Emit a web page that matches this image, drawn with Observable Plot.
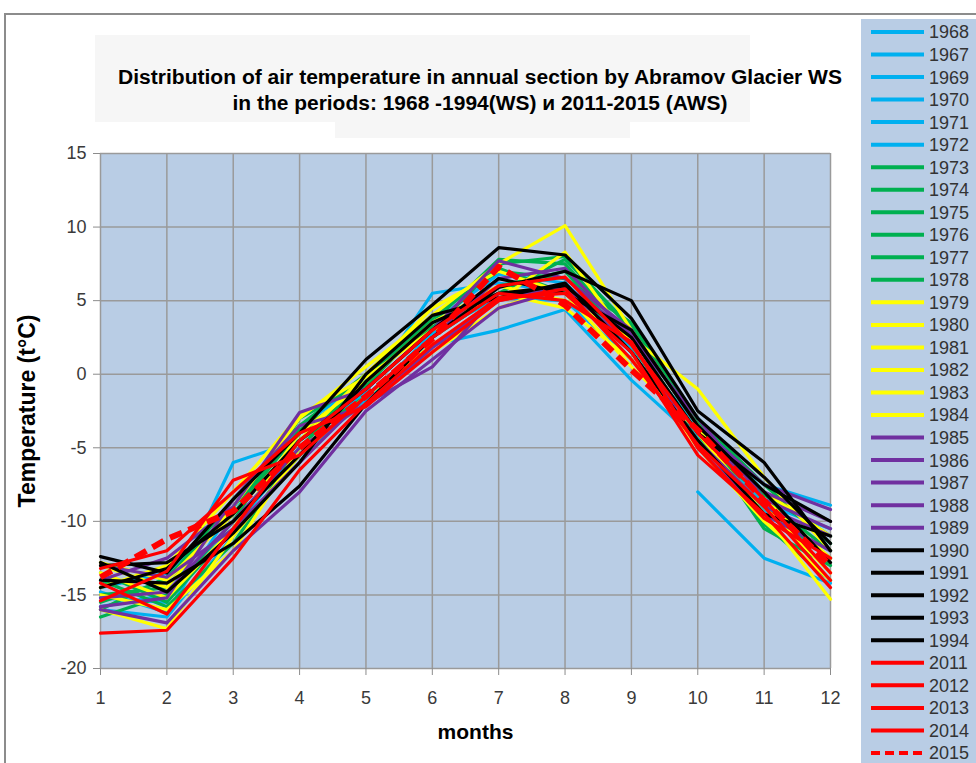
<!DOCTYPE html>
<html><head><meta charset="utf-8">
<script src="https://cdn.jsdelivr.net/npm/d3@7"></script>
<script src="https://cdn.jsdelivr.net/npm/@observablehq/plot@0.6"></script>
<style>
body{margin:0;background:#fff;}
#wrap{position:relative;width:976px;height:763px;overflow:hidden;font-family:"Liberation Sans",Arial,sans-serif;}
#frame{position:absolute;left:4px;top:13px;width:1200px;height:1200px;border-left:2px solid #8c8c8c;border-top:2px solid #8c8c8c;}
.tb{position:absolute;background:#f6f6f6;}
#chart,#title,#legend{position:absolute;}
#chart{left:0;top:0;}
#title{left:0;top:0;}
#legend{left:861px;top:19px;}
</style></head>
<body><div id="wrap">
<div id="frame"></div>
<div class="tb" style="left:95px;top:35px;width:655px;height:87px"></div>
<div class="tb" style="left:335px;top:122px;width:295px;height:16px"></div>
<div id="chart"></div><div id="title"></div><div id="legend"></div>
</div>
<script>
const months = [1,2,3,4,5,6,7,8,9,10,11,12];
const yTicks = [-20,-15,-10,-5,0,5,10,15];
const years = ["1968","1967","1969","1970","1971","1972","1973","1974","1975","1976","1977","1978",
  "1979","1980","1981","1982","1983","1984","1985","1986","1987","1988","1989",
  "1990","1991","1992","1993","1994","2011","2012","2013","2014","2015"];
const colors = ["#00b0f0","#00b0f0","#00b0f0","#00b0f0","#00b0f0","#00b0f0",
  "#00b050","#00b050","#00b050","#00b050","#00b050","#00b050",
  "#ffff00","#ffff00","#ffff00","#ffff00","#ffff00","#ffff00",
  "#7030a0","#7030a0","#7030a0","#7030a0","#7030a0",
  "#000000","#000000","#000000","#000000","#000000",
  "#ff0000","#ff0000","#ff0000","#ff0000","#ff0000"];

const t1968 = [-15.2,-15.5,-6.0,-4.5,-1.2,5.5,6.2,5.6,1.8,-3.5,-7.5,-8.9];
const t1967 = [null,null,null,null,null,null,null,null,null,-8.0,-12.5,-14.2];
const t1969 = [-14.8,-16.2,-9.0,-4.0,-1.5,2.0,3.0,4.4,-0.4,-4.5,-9.5,-12.0];
const t1970 = [-15.8,-15.0,-10.5,-5.0,-2.0,2.5,5.5,5.8,2.5,-3.0,-8.0,-11.0];
const t1971 = [-14.5,-13.5,-9.5,-3.5,-0.5,3.5,6.8,6.2,2.0,-4.2,-8.8,-10.5];
const t1972 = [-16.0,-16.5,-11.0,-5.5,-1.8,2.8,5.2,5.0,1.0,-3.8,-9.2,-12.5];
const t1973 = [-16.5,-15.0,-10.0,-3.0,-0.5,3.5,7.8,7.5,2.5,-4.0,-10.5,-13.0];
const t1974 = [-15.0,-14.5,-9.0,-4.0,-1.0,3.0,7.5,8.0,3.0,-3.5,-8.5,-12.0];
const t1975 = [-14.0,-15.8,-11.5,-5.0,-0.5,4.0,7.0,6.5,3.5,-3.0,-7.5,-11.5];
const t1976 = [-15.5,-14.0,-8.5,-3.5,0.0,3.2,6.0,7.0,2.0,-4.5,-9.0,-12.5];
const t1977 = [-13.5,-15.5,-10.5,-4.5,-1.5,2.5,5.5,7.8,3.2,-3.2,-10.2,-14.0];
const t1978 = [-16.0,-13.8,-9.5,-3.8,-0.8,3.8,7.2,5.5,2.8,-4.8,-8.2,-11.0];
const t1979 = [-13.0,-14.5,-9.0,-3.0,0.5,4.0,7.5,10.1,3.0,-3.5,-8.0,-11.0];
const t1980 = [-16.0,-17.3,-11.0,-5.5,-1.5,2.0,5.0,8.3,2.0,-4.0,-9.5,-15.3];
const t1981 = [-13.5,-15.2,-10.5,-4.0,-0.5,3.5,6.0,5.0,2.5,-1.0,-7.0,-12.0];
const t1982 = [-14.5,-13.0,-8.0,-2.8,-0.2,3.0,5.5,4.5,1.0,-4.5,-9.0,-13.5];
const t1983 = [-15.0,-16.0,-12.0,-5.0,-2.0,1.5,4.5,6.0,1.5,-5.0,-10.0,-14.0];
const t1984 = [-12.8,-14.0,-9.5,-4.5,0.0,4.5,7.0,5.5,0.5,-3.8,-8.5,-12.5];
const t1985 = [-16.0,-16.9,-12.0,-8.0,-2.5,1.0,4.5,5.8,2.0,-4.0,-8.0,-10.0];
const t1986 = [-14.0,-12.5,-9.0,-2.6,-1.0,3.0,7.7,6.5,3.0,-3.5,-7.5,-9.2];
const t1987 = [-15.2,-14.8,-10.0,-5.0,-2.0,0.5,5.5,5.5,1.5,-4.5,-9.0,-11.0];
const t1988 = [-13.0,-13.8,-10.5,-6.0,-1.5,2.5,6.5,7.2,2.5,-3.0,-8.5,-10.5];
const t1989 = [-15.8,-15.2,-8.5,-3.5,-2.2,1.8,5.0,6.0,2.8,-5.0,-9.5,-12.0];
const t1990 = [-12.4,-13.5,-8.5,-4.0,1.0,4.7,8.6,8.1,3.8,-3.0,-7.0,-11.5];
const t1991 = [-14.0,-14.2,-11.5,-7.6,-2.0,2.5,5.9,7.0,5.0,-2.5,-6.0,-12.0];
const t1992 = [-13.0,-12.8,-10.0,-5.5,-0.5,3.5,5.5,6.0,2.5,-4.0,-7.5,-10.0];
const t1993 = [-14.5,-13.2,-9.5,-4.5,-1.0,3.0,6.5,5.5,3.0,-3.5,-8.0,-12.8];
const t1994 = [-12.8,-14.8,-10.8,-6.0,0.0,4.0,5.2,6.2,1.5,-4.5,-9.5,-11.0];
const t2011 = [-17.6,-17.4,-12.5,-6.5,-2.0,2.0,5.2,5.5,1.5,-5.5,-9.5,-14.5];
const t2012 = [-14.2,-16.3,-10.5,-4.5,-1.0,3.0,6.0,6.6,2.0,-4.0,-8.5,-13.5];
const t2013 = [-15.4,-13.4,-7.2,-5.5,-1.5,2.5,5.5,5.0,2.2,-5.0,-9.8,-12.5];
const t2014 = [-13.2,-12.0,-8.0,-4.0,-2.2,1.5,5.0,5.8,1.0,-4.8,-9.0,-14.0];
const t2015 = [-13.8,-11.2,-9.3,-5.0,-1.5,2.4,7.3,4.7,0.3,-3.8,-8.6,-13.0];

const temps = [t1968,t1967,t1969,t1970,t1971,t1972,t1973,t1974,t1975,t1976,t1977,t1978,
  t1979,t1980,t1981,t1982,t1983,t1984,t1985,t1986,t1987,t1988,t1989,
  t1990,t1991,t1992,t1993,t1994,t2011,t2012,t2013,t2014,t2015];

const rows = [];
years.forEach((yr, k) => {
  temps[k].forEach((v, i) => {
    if (v !== null) rows.push({year: yr, month: months[i], temp: v, color: colors[k]});
  });
});
const solid = rows.filter(d => d.year !== "2015");
const dashed = rows.filter(d => d.year === "2015");

const chart = Plot.plot({
  width: 860, height: 763,
  marginLeft: 100, marginRight: 30, marginTop: 153, marginBottom: 95,
  x: {domain: [1, 12]},
  y: {domain: [-20, 15]},
  color: {type: "identity"},
  style: {fontFamily: "'Liberation Sans', Arial, sans-serif", background: "transparent", overflow: "visible"},
  marks: [
    Plot.frame({fill: "#b9cde5"}),
    Plot.gridX(months, {stroke: "#9a9a9a", strokeOpacity: 1, strokeWidth: 1.5}),
    Plot.gridY(yTicks, {stroke: "#9a9a9a", strokeOpacity: 1, strokeWidth: 1.5}),
    Plot.line(solid, {x: "month", y: "temp", z: "year", stroke: "color", strokeWidth: 3.2}),
    Plot.line(dashed, {x: "month", y: "temp", z: "year", stroke: "color", strokeWidth: 6, strokeDasharray: "13,7", strokeLinecap: "butt"}),
    Plot.axisY(yTicks, {tickSize: 7, tickPadding: 7, fontSize: 18, stroke: "#8c8c8c", fill: "#3a3a3a", label: null, tickFormat: d => String(d)}),
    Plot.axisX(months, {tickSize: 7, tickPadding: 16, fontSize: 18, stroke: "#8c8c8c", fill: "#3a3a3a", label: null, tickFormat: d => String(d)}),
    Plot.text(["months"], {text: d => d, frameAnchor: "bottom", dx: 10, dy: 70, fontSize: 21, fontWeight: "bold", fill: "#000"}),
    Plot.text(["Temperature (t°C)"], {text: d => d, frameAnchor: "left", textAnchor: "middle", dx: -73, rotate: -90, fontSize: 23, fontWeight: "bold", fill: "#000"})
  ]
});
document.getElementById("chart").appendChild(chart);

// Title
const tsvg = d3.select("#title").append("svg").attr("width", 976).attr("height", 160)
  .style("font-family", "'Liberation Sans', Arial, sans-serif");
const titleLines = ["Distribution of air temperature in annual section by Abramov Glacier WS",
  "in the periods: 1968 -1994(WS) и 2011-2015 (AWS)"];
const titleLens = [724, 495];
titleLines.forEach((t, i) => {
  tsvg.append("text").attr("x", 480).attr("y", 84 + i * 26).attr("text-anchor", "middle")
    .attr("font-size", 20).attr("font-weight", "bold").attr("fill", "#000")
    .attr("textLength", titleLens[i]).attr("lengthAdjust", "spacingAndGlyphs").text(t);
});

// Legend
const lsvg = d3.select("#legend").append("svg").attr("width", 115).attr("height", 744)
  .style("font-family", "'Liberation Sans', Arial, sans-serif");
lsvg.append("rect").attr("width", 115).attr("height", 744).attr("fill", "#b9cde5");
years.forEach((yr, i) => {
  const cy = 13 + i * 22.53;
  lsvg.append("line").attr("x1", 10).attr("x2", 63).attr("y1", cy).attr("y2", cy)
    .attr("stroke", colors[i]).attr("stroke-width", 4)
    .attr("stroke-dasharray", yr === "2015" ? "9,5" : null);
  lsvg.append("text").attr("x", 68).attr("y", cy).attr("dy", "0.36em")
    .attr("font-size", 18).attr("fill", "#333").text(yr);
});
</script>
</body></html>
